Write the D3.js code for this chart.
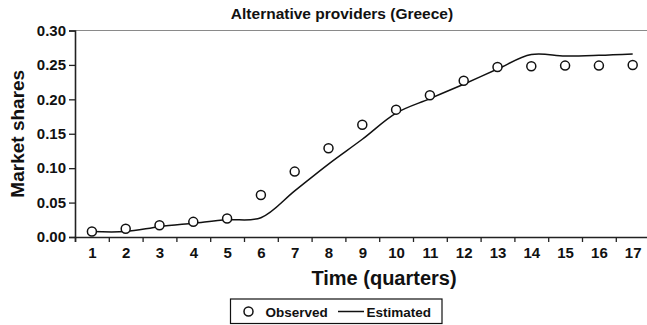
<!DOCTYPE html>
<html>
<head>
<meta charset="utf-8">
<script src="https://cdn.jsdelivr.net/npm/d3@7"></script>
<style>
  html, body { margin: 0; padding: 0; background: #fff; }
  svg { display: block; font-family: "Liberation Sans", Arial, sans-serif; font-weight: bold; }
</style>
</head>
<body>
<svg id="chart" width="647" height="325"></svg>
<script>
// Quarters on the horizontal axis
const quarters = [1, 2, 3, 4, 5, 6, 7, 8, 9, 10, 11, 12, 13, 14, 15, 16, 17];
// Observed market shares of alternative providers
const observed = [0.008, 0.012, 0.017, 0.022, 0.027, 0.061, 0.095, 0.129, 0.163, 0.185, 0.206, 0.227, 0.247, 0.248, 0.249, 0.249, 0.250];
// Estimated diffusion curve
const estimated = [0.008, 0.008, 0.015, 0.020, 0.025, 0.028, 0.067, 0.106, 0.142, 0.180, 0.201, 0.222, 0.244, 0.265, 0.263, 0.264, 0.266];
// Vertical axis ticks
const yTicks = [0.00, 0.05, 0.10, 0.15, 0.20, 0.25, 0.30];

const svg = d3.select("#chart");
const plotLeft = 75, plotRight = 649.6, plotTop = 30.5, plotBottom = 237;

const x = d3.scaleLinear().domain([0.5, 17.5]).range([plotLeft, plotRight]);
const y = d3.scaleLinear().domain([0, 0.30]).range([plotBottom, plotTop]);

// Title
svg.append("text")
  .attr("x", 342).attr("y", 19)
  .attr("text-anchor", "middle")
  .attr("font-size", 15.5)
  .attr("fill", "#111")
  .text("Alternative providers (Greece)");

// Top border of plot area
svg.append("line")
  .attr("x1", plotLeft).attr("x2", 647)
  .attr("y1", plotTop).attr("y2", plotTop)
  .attr("stroke", "#8a8a8a").attr("stroke-width", 1.2);

// Y axis
const yAxis = svg.append("g")
  .attr("transform", `translate(${plotLeft},0)`)
  .call(d3.axisLeft(y).tickValues(yTicks).tickSize(6).tickPadding(3).tickFormat(d3.format(".2f")));
yAxis.selectAll("text").attr("font-size", 15).attr("font-family", "Liberation Sans, Arial, sans-serif").attr("font-weight", "bold").attr("fill", "#111");

// X axis: tick marks between quarters
const xTickAxis = svg.append("g")
  .attr("transform", `translate(0,${plotBottom})`)
  .call(d3.axisBottom(x).tickValues(d3.range(0.5, 18, 1)).tickSize(5).tickFormat(""));
// X axis labels centred on each quarter
const xLabelAxis = svg.append("g")
  .attr("transform", `translate(0,${plotBottom})`)
  .call(d3.axisBottom(x).tickValues(quarters).tickSize(0).tickPadding(10).tickFormat(d3.format("d")));
xLabelAxis.select(".domain").remove();
xLabelAxis.selectAll("text").attr("font-size", 15).attr("font-family", "Liberation Sans, Arial, sans-serif").attr("font-weight", "bold").attr("fill", "#111");

svg.selectAll(".domain").attr("stroke", "#222").attr("stroke-width", 1.6);
svg.selectAll(".tick line").attr("stroke", "#222").attr("stroke-width", 1.3);

// Axis titles
svg.append("text")
  .attr("transform", `translate(24,${(plotTop + plotBottom) / 2}) rotate(-90)`)
  .attr("text-anchor", "middle")
  .attr("font-size", 19)
  .attr("fill", "#111")
  .text("Market shares");

svg.append("text")
  .attr("x", 384).attr("y", 285)
  .attr("text-anchor", "middle")
  .attr("font-size", 20)
  .attr("fill", "#111")
  .text("Time (quarters)");

// Estimated curve
const line = d3.line()
  .x((d, i) => x(quarters[i]))
  .y(d => y(d))
  .curve(d3.curveCatmullRom.alpha(0.5));
svg.append("path")
  .datum(estimated)
  .attr("d", line)
  .attr("fill", "none")
  .attr("stroke", "#111")
  .attr("stroke-width", 1.5);

// Observed points
svg.append("g").selectAll("circle")
  .data(observed)
  .join("circle")
  .attr("cx", (d, i) => x(quarters[i]))
  .attr("cy", d => y(d))
  .attr("r", 4.5)
  .attr("fill", "#fff")
  .attr("stroke", "#111")
  .attr("stroke-width", 1.5);

// Legend
const lg = svg.append("g");
lg.append("rect")
  .attr("x", 230.5).attr("y", 299)
  .attr("width", 211.5).attr("height", 24.5)
  .attr("fill", "#fff").attr("stroke", "#111").attr("stroke-width", 1.2);
lg.append("circle")
  .attr("cx", 248.5).attr("cy", 311.5).attr("r", 4.5)
  .attr("fill", "#fff").attr("stroke", "#111").attr("stroke-width", 1.5);
lg.append("text")
  .attr("x", 265.5).attr("y", 316.5)
  .attr("font-size", 13.5)
  .attr("fill", "#111")
  .text("Observed");
lg.append("line")
  .attr("x1", 338).attr("x2", 364)
  .attr("y1", 311.5).attr("y2", 311.5)
  .attr("stroke", "#111").attr("stroke-width", 1.5);
lg.append("text")
  .attr("x", 366.5).attr("y", 316.5)
  .attr("font-size", 13.5)
  .attr("fill", "#111")
  .text("Estimated");
</script>
</body>
</html>
